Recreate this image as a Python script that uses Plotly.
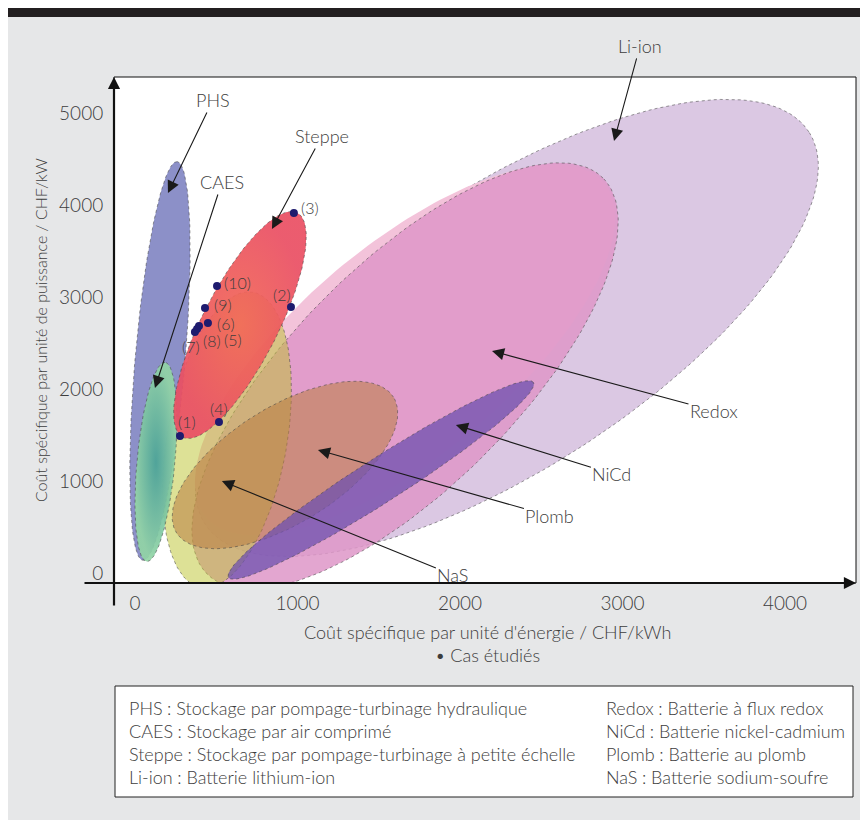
import numpy as np
import plotly.graph_objects as go

# ---------------- data ----------------
X_TICKS = [0, 1000, 2000, 3000, 4000]
Y_TICKS = [0, 1000, 2000, 3000, 4000, 5000]

# ellipses: centre (energy cost, power cost), tip of the major axis, minor/major ratio
ELL_NAMES = ["Li-ion", "Redox halo", "Redox", "NaS", "Plomb", "NiCd", "PHS", "CAES", "Steppe"]
ELL_CE = [2289, 1662, 1662, 566, 923, 1514, 154, 129, 646]
ELL_CP = [2663, 2424, 2141, 1446, 1174, 1011, 2304, 1207, 2696]
ELL_TE = [4147, 2887, 2880, 726, 1591, 2452, 259, 185, 998]
ELL_TP = [4795, 4240, 4293, 3051, 1911, 2071, 4471, 2289, 3916]
ELL_RATIO = [0.389, 0.404, 0.40, 0.40, 0.453, 0.122, 0.125, 0.19, 0.30]
ELL_FILL = ["rgba(200,170,212,0.65)", "rgba(243,195,218,1)", "rgba(222,150,200,0.85)",
            "rgba(188,195,45,0.5)", "rgba(185,125,65,0.55)", "rgba(110,80,175,0.75)",
            "rgba(120,125,190,0.85)", None, None]
ELL_GRAD = [None, None, None, None, None, None, None,
            ["rgba(75,165,150,0.92)", "rgba(145,212,165,0.92)"],
            ["rgba(242,104,86,0.93)", "rgba(234,80,100,0.93)"]]
ELL_BORDER = [True, False, True, True, True, True, True, True, True]

# studied cases
CASE_LABELS = ["(1)", "(2)", "(3)", "(4)", "(5)", "(6)", "(7)", "(8)", "(9)", "(10)"]
CASE_E = [277, 960, 978, 517, 394, 449, 369, 382, 431, 505]
CASE_P = [1489, 2891, 3913, 1641, 2685, 2717, 2620, 2652, 2880, 3120]
CASE_DX = [7, -9, 16, 0, 34, 18, -4, 15, 18, 20]
CASE_DY = [14, 13, 5, 14, -14, 0, -15, -12, 4, 3]

# arrow labels
ARROW_TEXT = ["Li-ion", "PHS", "Steppe", "CAES", "Redox", "NiCd", "Plomb", "NaS"]
ARROW_E = [2948, 203, 843, 123, 2197, 1975, 1126, 535]
ARROW_P = [4696, 4130, 3739, 2011, 2413, 1609, 1337, 1000]
ARROW_AX = [26, 45, 50, 67, 222, 156, 232, 231]
ARROW_AY = [-95, -93, -93, -206, 60, 49, 66, 94]

LEG_LEFT = ["PHS\u202f: Stockage par pompage-turbinage hydraulique",
            "CAES\u202f: Stockage par air comprimé",
            "Steppe\u202f: Stockage par pompage-turbinage à petite échelle",
            "Li-ion\u202f: Batterie lithium-ion"]
LEG_RIGHT = ["Redox\u202f: Batterie à flux redox",
             "NiCd\u202f: Batterie nickel-cadmium",
             "Plomb\u202f: Batterie au plomb",
             "NaS\u202f: Batterie sodium-soufre"]

X_TITLE = "Coût spécifique par unité d'énergie / CHF/kWh"
Y_TITLE = "Coût spécifique par unité de puissance / CHF/kW"
NOTE = "• Cas étudiés"

# ---------------- layout constants ----------------
OFF = 8  # page body margin
W, H = 860, 812
ML, MR, MT, MB = 106, 12, 69, 237
PW, PH = W - ML - MR, H - MT - MB
X_RANGE = [-129, 4437]
Y_RANGE = [-109, 5391]
SX = PW / (X_RANGE[1] - X_RANGE[0])
SY = PH / (Y_RANGE[1] - Y_RANGE[0])

FAM = "Lato, 'Open Sans', sans-serif"
TXT = "#3d3d3d"


def fnt(size):
    return dict(size=size, color=TXT, family=FAM, weight=300)


def px_x(p):
    return (p - OFF - ML) / PW


def px_y(p):
    return (MT + PH - (p - OFF)) / PH


def ellipse(ce, cp, te, tp, r, n=200):
    ux, uy = (te - ce) * SX, (tp - cp) * SY
    vx, vy = -uy * r, ux * r
    t = np.linspace(0, 2 * np.pi, n)
    xs = ce + (ux * np.cos(t) + vx * np.sin(t)) / SX
    ys = cp + (uy * np.cos(t) + vy * np.sin(t)) / SY
    return xs, ys


fig = go.Figure()

for i, name in enumerate(ELL_NAMES):
    xs, ys = ellipse(ELL_CE[i], ELL_CP[i], ELL_TE[i], ELL_TP[i], ELL_RATIO[i])
    kw = dict(x=xs, y=ys, mode="lines", fill="toself", name=name, hoverinfo="skip",
              showlegend=False)
    if ELL_BORDER[i]:
        kw["line"] = dict(color="rgba(70,70,70,0.55)", width=1, dash="dot")
    else:
        kw["line"] = dict(width=0, color="rgba(0,0,0,0)")
    if ELL_GRAD[i] is not None:
        kw["fillgradient"] = dict(type="radial",
                                  colorscale=[[0, ELL_GRAD[i][0]], [1, ELL_GRAD[i][1]]])
        kw["fillcolor"] = ELL_GRAD[i][1]
    else:
        kw["fillcolor"] = ELL_FILL[i]
    fig.add_trace(go.Scatter(**kw))

fig.add_trace(go.Scatter(x=CASE_E, y=CASE_P, mode="markers", showlegend=False,
                         marker=dict(size=8, color="#1e1b6e"), hoverinfo="skip"))

ann = []
for i, lab in enumerate(CASE_LABELS):
    ann.append(dict(x=CASE_E[i], y=CASE_P[i], xref="x", yref="y", text=lab,
                    showarrow=False, xshift=CASE_DX[i], yshift=CASE_DY[i],
                    xanchor="center", yanchor="middle", font=fnt(16)))

for i, lab in enumerate(ARROW_TEXT):
    ann.append(dict(x=ARROW_E[i], y=ARROW_P[i], xref="x", yref="y", text=lab,
                    showarrow=True, ax=ARROW_AX[i], ay=ARROW_AY[i],
                    arrowhead=2, arrowsize=2.2, arrowwidth=1.1, arrowcolor="#1a1a1a",
                    font=fnt(18)))

# axis arrows
ann.append(dict(x=0, y=1, xref="paper", yref="paper", text="", showarrow=True,
                ax=0, ay=530, arrowhead=2, arrowsize=1.1, arrowwidth=2.2, arrowcolor="#111"))
ann.append(dict(x=1, y=0, xref="paper", yref="paper", text="", showarrow=True,
                ax=-773, ay=0, arrowhead=2, arrowsize=1.1, arrowwidth=2.2, arrowcolor="#111"))

# titles
ann.append(dict(x=px_x(487), y=px_y(632), xref="paper", yref="paper", text=X_TITLE,
                showarrow=False, xanchor="center", yanchor="middle", font=fnt(18)))
ann.append(dict(x=px_x(487), y=px_y(655), xref="paper", yref="paper", text=NOTE,
                showarrow=False, xanchor="center", yanchor="middle", font=fnt(18)))
ann.append(dict(x=px_x(40), y=px_y(330), xref="paper", yref="paper", text=Y_TITLE,
                textangle=-90, showarrow=False, xanchor="center", yanchor="middle",
                font=fnt(16)))

# legend box texts
ROW_Y = [708, 731, 754, 777]
for i in range(4):
    ann.append(dict(x=px_x(127), y=px_y(ROW_Y[i]), xref="paper", yref="paper",
                    text=LEG_LEFT[i], showarrow=False, xanchor="left", yanchor="middle",
                    font=fnt(18)))
    ann.append(dict(x=px_x(604), y=px_y(ROW_Y[i]), xref="paper", yref="paper",
                    text=LEG_RIGHT[i], showarrow=False, xanchor="left", yanchor="middle",
                    font=fnt(18)))

shapes = [
    dict(type="rect", xref="paper", yref="paper", x0=px_x(8), x1=px_x(880), y0=px_y(17),
         y1=px_y(7), fillcolor="#231f20", line=dict(width=0), layer="above"),
    dict(type="rect", xref="paper", yref="paper", x0=0, x1=1, y0=0, y1=1,
         line=dict(color="#111", width=1), layer="above"),
    dict(type="rect", xref="paper", yref="paper", x0=px_x(115), x1=px_x(853),
         y0=px_y(797), y1=px_y(686), fillcolor="white",
         line=dict(color="#222", width=1), layer="above"),
]

fig.update_layout(
    width=W, height=H,
    margin=dict(l=ML, r=MR, t=MT, b=MB, pad=0, autoexpand=False),
    paper_bgcolor="#e6e7e8", plot_bgcolor="white",
    font=dict(family=FAM, color=TXT),
    xaxis=dict(range=X_RANGE, tickvals=X_TICKS, showgrid=False, zeroline=False,
               showline=False, ticks="outside", ticklen=3, tickcolor="rgba(0,0,0,0)",
               tickfont=fnt(19), fixedrange=True),
    yaxis=dict(range=Y_RANGE, tickvals=Y_TICKS, showgrid=False, zeroline=False,
               showline=False, ticks="outside", ticklen=6, tickcolor="rgba(0,0,0,0)",
               tickfont=fnt(19), fixedrange=True),
    annotations=ann, shapes=shapes, showlegend=False,
)

fig.write_html("out.html")
